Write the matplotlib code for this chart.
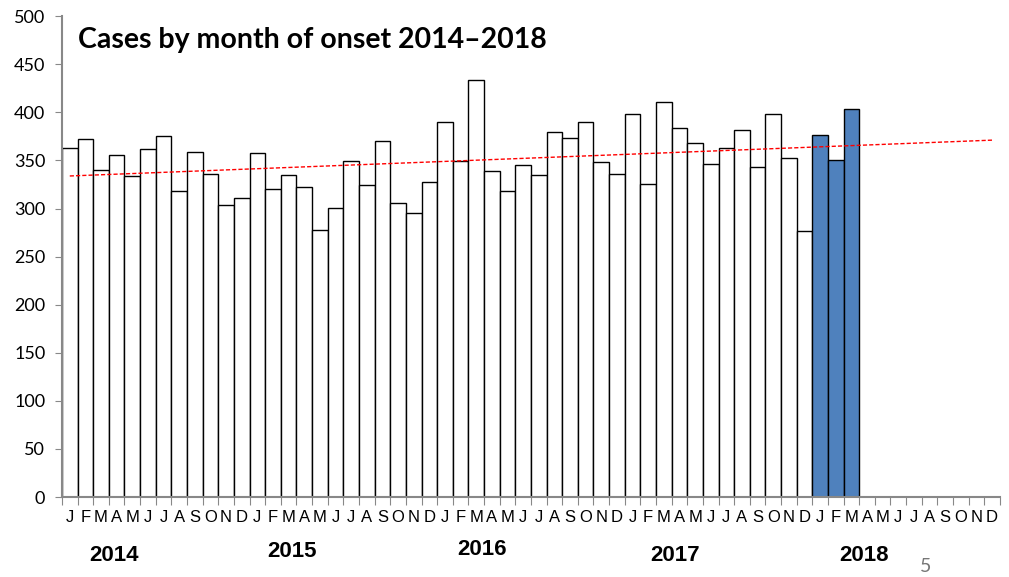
import numpy as np
import matplotlib.pyplot as plt

# monthly case counts, Jan 2014 - Mar 2018
cases_2014 = [363, 372, 340, 356, 334, 362, 375, 318, 359, 336, 304, 311]
cases_2015 = [358, 320, 335, 322, 278, 301, 349, 324, 370, 306, 295, 328]
cases_2016 = [390, 349, 434, 339, 318, 345, 335, 380, 373, 390, 348, 336]
cases_2017 = [398, 325, 411, 384, 368, 346, 363, 382, 343, 398, 353, 277]
cases_2018 = [376, 350, 403]

months = ['J', 'F', 'M', 'A', 'M', 'J', 'J', 'A', 'S', 'O', 'N', 'D']
years = ['2014', '2015', '2016', '2017', '2018']

old = cases_2014 + cases_2015 + cases_2016 + cases_2017
allcases = old + cases_2018
nmonths = 12 * len(years)

fig = plt.figure(figsize=(10.09, 5.77), dpi=100)
ax = fig.add_axes([0.0614, 0.1386, 0.9296, 0.8334])

x_old = np.arange(len(old))
x_new = np.arange(len(old), len(allcases))
ax.bar(x_old, old, width=1.0, color='white', edgecolor='black', linewidth=1.0)
ax.bar(x_new, cases_2018, width=1.0, color='#4f81bd', edgecolor='black', linewidth=1.0)

# linear trend fitted to the data, extended over the whole period
xall = np.arange(len(allcases))
p = np.polyfit(xall, allcases, 1)
xt = np.arange(nmonths)
ax.plot(xt, np.polyval(p, xt), color='red', linestyle=(0, (3, 1.5)), linewidth=1.0)

ax.set_xlim(-0.5, nmonths - 0.5)
ax.set_ylim(0, 500)
ax.set_yticks(np.arange(0, 501, 50))
ax.tick_params(axis='y', direction='out', length=5, color='#888888', labelsize=13, pad=7)
for lab in ax.get_yticklabels():
    lab.set_family('Lato')

ax.set_xticks(np.arange(nmonths + 1) - 0.5, minor=False)
ax.set_xticklabels([])
ax.tick_params(axis='x', direction='out', length=6, color='#888888')
for i in range(nmonths):
    ax.text(i, -14, months[i % 12], ha='center', va='top', fontsize=12,
            family=['Liberation Sans Narrow', 'Liberation Sans'])

year_pos = [(2.8, -50), (14.2, -46), (26.4, -44), (38.7, -50), (50.8, -50)]
for yr, (xp, yp) in zip(years, year_pos):
    ax.text(xp, yp, yr, ha='center', va='top', fontsize=16, fontweight='bold',
            family=['Liberation Sans Narrow', 'Liberation Sans'])

for s in ['top', 'right']:
    ax.spines[s].set_visible(False)
ax.spines['left'].set_color('#888888')
ax.spines['bottom'].set_color('#888888')
ax.spines['left'].set_linewidth(1.5)
ax.spines['bottom'].set_linewidth(1.5)

ax.text(0.5, 475, 'Cases by month of onset 2014\u20132018', ha='left', va='center',
        fontsize=20.5, fontweight='bold', family='Lato')

fig.text(0.912, 0.003, '5', fontsize=14, color='#777777', family='Lato', va='bottom')

fig.savefig('out.png', dpi=100)
